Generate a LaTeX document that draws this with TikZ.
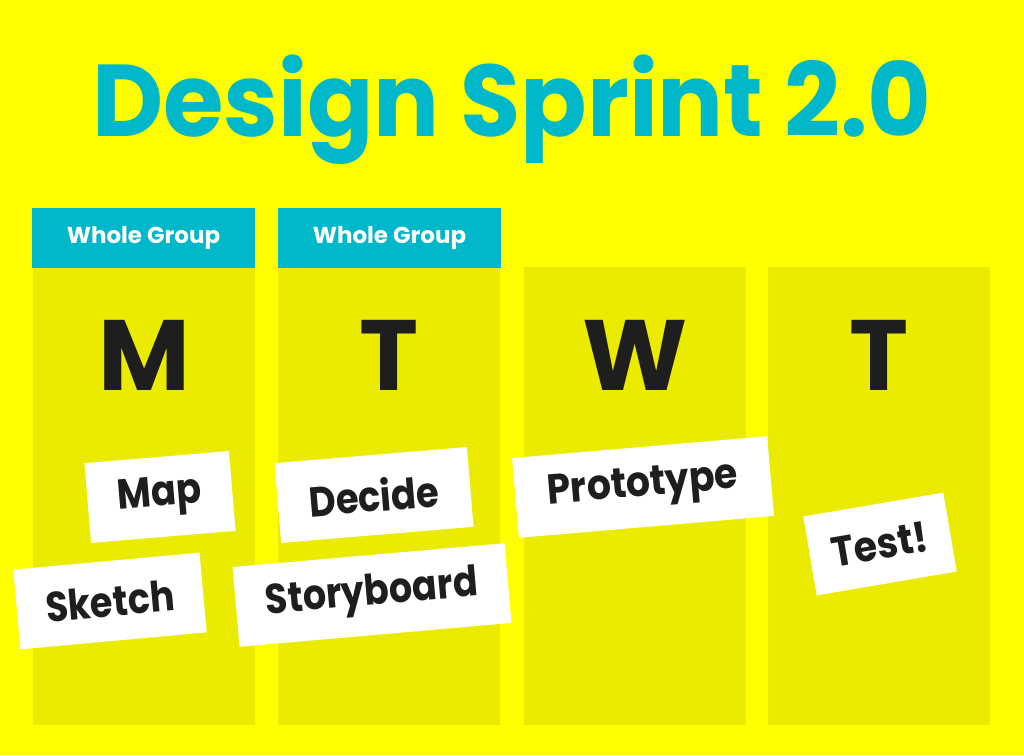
\documentclass[tikz,border=0pt]{standalone}
\usepackage{fontspec}
\usepackage{graphicx}
\setmainfont{Poppins}
\definecolor{bgyellow}{HTML}{FFFF00}
\definecolor{colyellow}{HTML}{EBEB00}
\definecolor{teal}{HTML}{00B8C9}
\definecolor{ink}{HTML}{1E1E1E}
\newcommand{\narrowtxt}[2]{\scalebox{#1}[1]{#2}}
\begin{document}
\begin{tikzpicture}[x=1pt,y=-1pt,
  column/.style={fill=colyellow,draw=none,minimum width=222pt,minimum height=458pt,inner sep=0pt},
  header/.style={fill=teal,draw=none,minimum width=223pt,minimum height=60pt,inner sep=0pt,
    text=white,font=\bfseries\fontsize{23}{23}\selectfont},
  day/.style={text=ink,anchor=base,inner sep=0pt,font=\bfseries\fontsize{100}{100}\selectfont},
  card/.style={fill=white,draw=none,minimum height=80pt,inner sep=0pt,text=ink,
    font=\bfseries\fontsize{42}{42}\selectfont}]
\useasboundingbox[fill=bgyellow] (0,0) rectangle (1024,755);
\node[anchor=base,inner sep=0pt,text=teal,font=\bfseries\fontsize{102}{102}\selectfont] (title) at (512,136) {\narrowtxt{0.96}{Design Sprint 2.0}};
\node[column] (c1) at (144,496) {};
\node[column] (c2) at (389,496) {};
\node[column] (c3) at (635,496) {};
\node[column] (c4) at (879,496) {};
\node[header] (h1) at (143.5,238) {Whole Group};
\node[header] (h2) at (389.5,238) {Whole Group};
\node[day] (dm) at (144,390) {M};
\node[day] (dt1) at (389,390) {T};
\node[day] (dw) at (635,390) {W};
\node[day] (dt2) at (879,390) {T};
\node[card,minimum width=145pt,rotate=4.8] (map) at (160,497) {\narrowtxt{0.88}{Map}};
\node[card,minimum width=187pt,rotate=5.2] (sketch) at (110,601) {\narrowtxt{0.87}{Sketch}};
\node[card,minimum width=193pt,rotate=4.8] (decide) at (374,495) {\narrowtxt{0.88}{Decide}};
\node[card,minimum width=273pt,rotate=5.0] (story) at (372,595) {\narrowtxt{0.87}{Storyboard}};
\node[card,minimum width=256pt,rotate=4.9] (proto) at (643,487) {\narrowtxt{0.9}{Prototype}};
\node[card,minimum width=142pt,rotate=9.7] (test) at (880,544) {\narrowtxt{0.9}{Test!}};
\end{tikzpicture}
\end{document}
